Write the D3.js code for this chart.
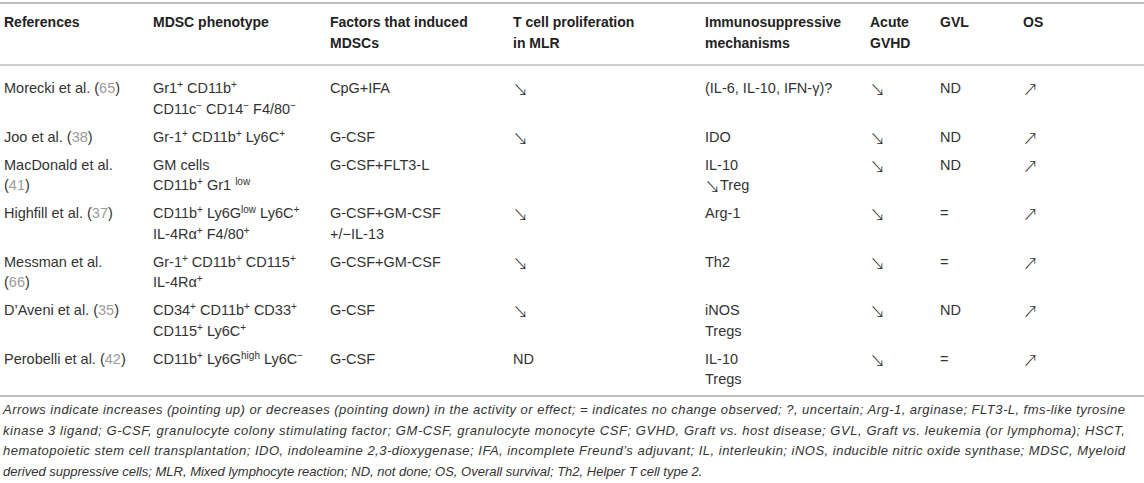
<!DOCTYPE html>
<html>
<head>
<meta charset="utf-8">
<script src="https://cdn.jsdelivr.net/npm/d3@7"></script>
<style>
  html, body { margin: 0; padding: 0; background: #fff; }
  svg { display: block; }
</style>
</head>
<body>
<div id="table-container"></div>
<script>
// MDSC table, drawn as SVG text with D3
// Markup inside cells: ^{..} = superscript, [..] = grey reference number

const headers = [
    ["References"],
    ["MDSC phenotype"],
    ["Factors that induced", "MDSCs"],
    ["T cell proliferation", "in MLR"],
    ["Immunosuppressive", "mechanisms"],
    ["Acute", "GVHD"],
    ["GVL"],
    ["OS"]
];

const references = [
    ["Morecki et al. ([65])"],
    ["Joo et al. ([38])"],
    ["MacDonald et al.", "([41])"],
    ["Highfill et al. ([37])"],
    ["Messman et al.", "([66])"],
    ["D’Aveni et al. ([35])"],
    ["Perobelli et al. ([42])"]
];

const phenotypes = [
    ["Gr1^{+} CD11b^{+}", "CD11c^{−} CD14^{−} F4/80^{−}"],
    ["Gr-1^{+} CD11b^{+} Ly6C^{+}"],
    ["GM cells", "CD11b^{+} Gr1 ^{low}"],
    ["CD11b^{+} Ly6G^{low} Ly6C^{+}", "IL-4Rα^{+} F4/80^{+}"],
    ["Gr-1^{+} CD11b^{+} CD115^{+}", "IL-4Rα^{+}"],
    ["CD34^{+} CD11b^{+} CD33^{+}", "CD115^{+} Ly6C^{+}"],
    ["CD11b^{+} Ly6G^{high} Ly6C^{−}"]
];

const factors = [
    ["CpG+IFA"],
    ["G-CSF"],
    ["G-CSF+FLT3-L"],
    ["G-CSF+GM-CSF", "+/−IL-13"],
    ["G-CSF+GM-CSF"],
    ["G-CSF"],
    ["G-CSF"]
];

const tCellProliferation = ["↘", "↘", "", "↘", "↘", "↘", "ND"];

const mechanisms = [
    ["(IL-6, IL-10, IFN-γ)?"],
    ["IDO"],
    ["IL-10", "↘Treg"],
    ["Arg-1"],
    ["Th2"],
    ["iNOS", "Tregs"],
    ["IL-10", "Tregs"]
];

const acuteGVHD = ["↘", "↘", "↘", "↘", "↘", "↘", "↘"];
const gvl = ["ND", "ND", "ND", "=", "=", "ND", "="];
const overallSurvival = ["↗", "↗", "↗", "↗", "↗", "↗", "↗"];

const footnote = [
    "Arrows indicate increases (pointing up) or decreases (pointing down) in the activity or effect; = indicates no change observed; ?, uncertain; Arg-1, arginase; FLT3-L, fms-like tyrosine",
    "kinase 3 ligand; G-CSF, granulocyte colony stimulating factor; GM-CSF, granulocyte monocyte CSF; GVHD, Graft vs. host disease; GVL, Graft vs. leukemia (or lymphoma); HSCT,",
    "hematopoietic stem cell transplantation; IDO, indoleamine 2,3-dioxygenase; IFA, incomplete Freund’s adjuvant; IL, interleukin; iNOS, inducible nitric oxide synthase; MDSC, Myeloid",
    "derived suppressive cells; MLR, Mixed lymphocyte reaction; ND, not done; OS, Overall survival; Th2, Helper T cell type 2."
];

document.addEventListener('DOMContentLoaded', () => {
    const width = 1144;
    const height = 483;

    const FONT = "'Liberation Sans', Arial, Helvetica, sans-serif";
    const ARROW_FONT = "'Noto Sans CJK SC', 'DejaVu Sans', sans-serif";
    const LINE = 20.5;      // line height inside a cell
    const ROW_GAP = 28;     // last line of one row -> first line of the next

    const svg = d3.select("#table-container").append("svg")
        .attr("width", width)
        .attr("height", height)
        .attr("viewBox", [0, 0, width, height]);

    // Column left edges
    const colX = d3.scaleOrdinal()
        .domain(d3.range(headers.length))
        .range([4, 153, 330, 513, 705, 870, 940, 1023]);

    // Gather rows: each cell is a list of lines
    const asLines = v => Array.isArray(v) ? v : [v];
    const rows = references.map((ref, i) => [
        ref, phenotypes[i], factors[i], asLines(tCellProliferation[i]),
        mechanisms[i], asLines(acuteGVHD[i]), asLines(gvl[i]), asLines(overallSurvival[i])
    ]);

    // Baseline of each row's first line
    const rowLines = rows.map(r => d3.max(r, c => c.length));
    const rowY = [93];
    rowLines.slice(0, -1).forEach((n, i) => rowY.push(rowY[i] + (n - 1) * LINE + ROW_GAP));

    // Rules
    const rule = (y, w) => svg.append("line")
        .attr("x1", 0).attr("x2", width)
        .attr("y1", y).attr("y2", y)
        .attr("stroke", "#bdbdbd")
        .attr("stroke-width", w);
    rule(3, 2);
    rule(65, 1.5);
    rule(396, 2);

    // Writes one line of markup into a <text>, handling superscripts, arrows and grey refs.
    // `shift` keeps track of how far the current tspan sits off the baseline.
    function writeLine(textSel, str) {
        const parts = str.split(/(\^\{[^}]*\}|\[[^\]]*\])/).filter(p => p !== "");
        let shift = 0;
        const moveTo = target => { const d = target - shift; shift = target; return d; };
        parts.forEach(p => {
            if (p.startsWith("^{")) {
                textSel.append("tspan")
                    .attr("dy", moveTo(-5))
                    .attr("font-size", 10)
                    .text(p.slice(2, -1));
            } else {
                const isRef = p.startsWith("[");
                const content = isRef ? p.slice(1, -1) : p;
                // split arrows out so they get a font that has them
                content.split(/([↘↗])/).filter(s => s !== "").forEach(s => {
                    const isArrow = s === "↘" || s === "↗";
                    const t = textSel.append("tspan")
                        .attr("dy", moveTo(isArrow ? 2 : 0))
                        .text(s);
                    if (isRef) t.attr("fill", "#9a9a9a");
                    if (isArrow) {
                        t.attr("font-family", ARROW_FONT)
                         .attr("font-weight", 300)
                         .attr("font-size", 15)
                         .attr("fill", "#222");
                    }
                });
            }
        });
    }

    // 1. Header
    headers.forEach((lines, c) => {
        lines.forEach((ln, k) => {
            svg.append("text")
                .attr("x", colX(c))
                .attr("y", 27 + k * LINE)
                .attr("font-family", FONT)
                .attr("font-size", 14)
                .attr("font-weight", "bold")
                .attr("fill", "#222")
                .text(ln);
        });
    });

    // 2. Body cells
    rows.forEach((row, r) => {
        row.forEach((lines, c) => {
            lines.forEach((ln, k) => {
                if (!ln) return;
                const t = svg.append("text")
                    .attr("x", colX(c))
                    .attr("y", rowY[r] + k * LINE)
                    .attr("font-family", FONT)
                    .attr("font-size", 14.5)
                    .attr("fill", "#333");
                writeLine(t, ln);
            });
        });
    });

    // 3. Footnote (justified lines except the last)
    footnote.forEach((ln, k) => {
        const t = svg.append("text")
            .attr("x", 3)
            .attr("y", 414 + k * LINE)
            .attr("font-family", FONT)
            .attr("font-size", 13)
            .attr("font-style", "italic")
            .attr("fill", "#333")
            .text(ln);
        if (k < footnote.length - 1) {
            t.attr("textLength", 1122).attr("lengthAdjust", "spacing");
        }
    });
});
</script>
</body>
</html>
